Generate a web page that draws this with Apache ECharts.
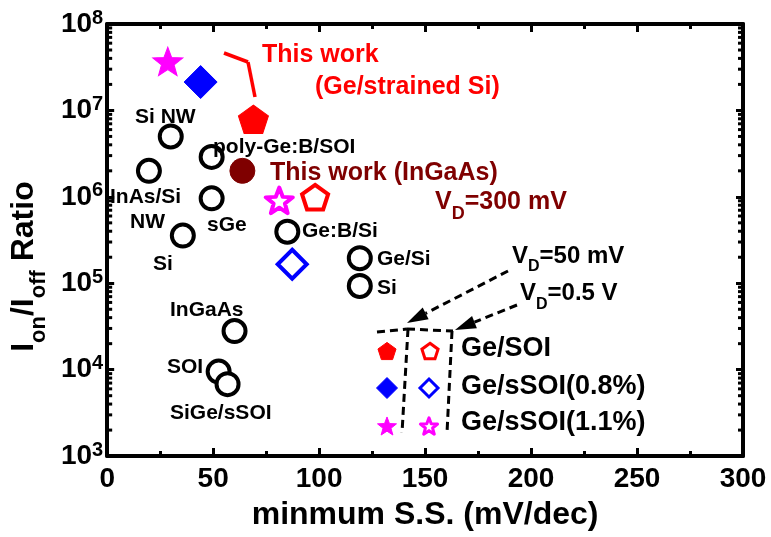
<!DOCTYPE html>
<html><head><meta charset="utf-8">
<script src="https://cdn.jsdelivr.net/npm/echarts@6/dist/echarts.min.js"></script>
<style>html,body{margin:0;padding:0;background:#fff}#c{width:771px;height:537px}</style>
</head><body><div id="c"></div>
<script>
// ---------------- data ----------------
const xTicks = [0, 50, 100, 150, 200, 250, 300];
const yDecades = [3, 4, 5, 6, 7, 8];
// other works (black hollow circles): [min S.S. (mV/dec), Ion/Ioff]
const otherSS    = [30, 19.7, 49.3, 49.3, 35.7, 85, 119.2, 119.2, 60.1, 52.6, 56.8];
const otherRatio = [5.0e6, 2.0e6, 2.9e6, 9.6e5, 3.56e5, 3.95e5, 1.95e5, 9.3e4, 2.8e4, 9.5e3, 6.8e3];
const otherNames = ['Si NW', 'InAs/Si NW', 'poly-Ge:B/SOI', 'sGe', 'Si', 'Ge:B/Si', 'Ge/Si', 'Si', 'InGaAs', 'SOI', 'SiGe/sSOI'];
// this work (InGaAs), VD = 300 mV
const inGaAsSS = [63.8], inGaAsRatio = [2.0e6];
// this work Ge/SOI
const geSOI50SS = [69],   geSOI50Ratio = [7.9e6];   // VD = 50 mV
const geSOI05SS = [98.1], geSOI05Ratio = [9.9e5];   // VD = 0.5 V
// Ge/sSOI(0.8%)
const gs08_50SS = [44.1], gs08_50Ratio = [2.13e7];
const gs08_05SS = [87.3], gs08_05Ratio = [1.66e5];
// Ge/sSOI(1.1%)
const gs11_50SS = [28.6], gs11_50Ratio = [3.69e7];
const gs11_05SS = [81.2], gs11_05Ratio = [9.1e5];
// log minor ticks
const minorMant = [2, 3, 4, 5, 6, 7, 8, 9];

// ---------------- helpers ----------------
const FONT = '"Liberation Sans", Arial, Helvetica, sans-serif';
const pairs = (xs, ys) => xs.map((x, i) => [x, ys[i]]);
function polyPath(n, inner) {
  const pts = []; const cnt = inner ? n * 2 : n;
  for (let k = 0; k < cnt; k++) {
    const r = inner && (k % 2) ? inner : 1;
    const a = -Math.PI / 2 + k * 2 * Math.PI / cnt;
    pts.push((r * Math.cos(a) * 100).toFixed(2) + ',' + (r * Math.sin(a) * 100).toFixed(2));
  }
  return 'path://M' + pts.join('L') + 'Z';
}
const PENT = polyPath(5);
const STAR = polyPath(5, 0.42);
function polyPts(cx, cy, R, n, inner) {
  const pts = []; const cnt = inner ? n * 2 : n;
  const dy = R * (1 - Math.cos(Math.PI / n)) / 2;
  for (let k = 0; k < cnt; k++) {
    const r = inner && (k % 2) ? inner * R : R;
    const a = -Math.PI / 2 + k * 2 * Math.PI / cnt;
    pts.push([cx + r * Math.cos(a), cy + dy + r * Math.sin(a)]);
  }
  return pts;
}
function diamondPts(cx, cy, s) { return [[cx, cy - s / 2], [cx + s / 2, cy], [cx, cy + s / 2], [cx - s / 2, cy]]; }
function txt(x, cy, s, size, color) {
  return { type: 'text', x: x, y: cy, z: 20,
    style: { text: s, fill: color || '#000', fontSize: size, fontWeight: 'bold', fontFamily: FONT, align: 'left', verticalAlign: 'middle' } };
}
function subTxt(x, top, main, sub, rest, size, subSize, color, pad) {
  return { type: 'text', x: x, y: top, z: 20,
    style: { text: '{v|' + main + '}{s|' + sub + '}{v|' + rest + '}', fill: color, align: 'left', verticalAlign: 'top',
      rich: {
        v: { fontSize: size, fontWeight: 'bold', fontFamily: FONT, fill: color, lineHeight: size + 2, verticalAlign: 'top' },
        s: { fontSize: subSize, fontWeight: 'bold', fontFamily: FONT, fill: color, lineHeight: subSize + 2, verticalAlign: 'top', padding: [pad, 0, 0, 0] }
      } } };
}
function seg(x1, y1, x2, y2, color, w, dash) {
  const st = { stroke: color, lineWidth: w };
  if (dash) st.lineDash = dash;
  return { type: 'line', z: 15, shape: { x1: x1, y1: y1, x2: x2, y2: y2 }, style: st };
}
function arrow(x1, y1, x2, y2) {
  const L = 21, W = 6.5;
  const dx = x2 - x1, dy = y2 - y1, len = Math.hypot(dx, dy);
  const ux = dx / len, uy = dy / len;
  const bx = x2 - ux * L, by = y2 - uy * L;
  return [ seg(x1, y1, bx, by, '#000', 3, [8, 5]),
    { type: 'polygon', z: 15, shape: { points: [[x2, y2], [bx - uy * W, by + ux * W], [bx + uy * W, by - ux * W]] }, style: { fill: '#000' } } ];
}

// ---------------- graphics (annotations) ----------------
const circleLabelPos = [
  [135, 117, 'Si NW'], [110, 197, 'InAs/Si'], [130, 222, 'NW'], [213, 147, 'poly-Ge:B/SOI'],
  [207, 225, 'sGe'], [153, 264, 'Si'], [302, 231, 'Ge:B/Si'], [377, 259, 'Ge/Si'], [377, 288, 'Si'],
  [170, 310, 'InGaAs'], [167, 367, 'SOI'], [170, 413, 'SiGe/sSOI']
];
const graphics = [];
circleLabelPos.forEach(p => graphics.push(txt(p[0], p[1], p[2], 21, '#000')));
graphics.push(txt(262, 55, 'This work', 25, '#ff0000'));
graphics.push(txt(315, 87, '(Ge/strained Si)', 25, '#ff0000'));
graphics.push(seg(224, 53, 248, 62, '#ff0000', 3.5));
graphics.push(seg(248, 62, 255, 97, '#ff0000', 3.5));
graphics.push(txt(270, 173, 'This work (InGaAs)', 25, '#7f0000'));
graphics.push(subTxt(435, 189.5, 'V', 'D', '=300 mV', 25, 18, '#7f0000', 15.5));
graphics.push(subTxt(512, 244, 'V', 'D', '=50 mV', 24, 16, '#000', 14.5));
graphics.push(subTxt(520, 281.5, 'V', 'D', '=0.5 V', 24, 16, '#000', 15));
arrow(508, 271, 407, 323).forEach(g => graphics.push(g));
arrow(517, 305, 455, 330).forEach(g => graphics.push(g));
graphics.push(seg(377, 332, 407, 329, '#000', 3, [8, 5]));
graphics.push(seg(407, 329, 453, 331, '#000', 3, [8, 5]));
graphics.push(seg(408, 329, 402, 433, '#000', 3, [8, 5]));
graphics.push(seg(452, 331, 447, 433, '#000', 3, [8, 5]));
graphics.push({ type: 'polygon', z: 15, shape: { points: polyPts(387, 351, 9.5, 5) }, style: { fill: '#ff0000', stroke: '#ff0000', lineWidth: 1 } });
graphics.push({ type: 'polygon', z: 15, shape: { points: polyPts(430, 351, 8.5, 5) }, style: { fill: '#fff', stroke: '#ff0000', lineWidth: 3 } });
graphics.push({ type: 'polygon', z: 15, shape: { points: diamondPts(387, 388, 21) }, style: { fill: '#0000ff', stroke: '#0000ff', lineWidth: 1 } });
graphics.push({ type: 'polygon', z: 15, shape: { points: diamondPts(429, 388, 18) }, style: { fill: '#fff', stroke: '#0000ff', lineWidth: 3 } });
graphics.push({ type: 'polygon', z: 15, shape: { points: polyPts(387, 426, 10, 5, 0.42) }, style: { fill: '#ff00ff', stroke: '#ff00ff', lineWidth: 1 } });
graphics.push({ type: 'polygon', z: 15, shape: { points: polyPts(429, 426, 9, 5, 0.42) }, style: { fill: '#fff', stroke: '#ff00ff', lineWidth: 3, lineJoin: 'round' } });
graphics.push(txt(461, 349, 'Ge/SOI', 27, '#000'));
graphics.push(txt(461, 387, 'Ge/sSOI(0.8%)', 27, '#000'));
graphics.push(txt(461, 423, 'Ge/sSOI(1.1%)', 27, '#000'));

// ---------------- chart ----------------
const minorVals = [];
for (let e = yDecades[0]; e < yDecades[yDecades.length - 1]; e++) minorMant.forEach(m => minorVals.push([0, m * Math.pow(10, e)]));
const axisLine = { show: true, onZero: false, lineStyle: { color: '#000', width: 4 } };
const tickStyle = { color: '#000', width: 3 };
const xAxisBase = { type: 'value', min: xTicks[0], max: xTicks[xTicks.length - 1], interval: 50, axisLine: axisLine, splitLine: { show: false },
  axisTick: { show: true, inside: true, length: 8, lineStyle: tickStyle }, minorTick: { show: true, splitNumber: 2, length: 5, lineStyle: tickStyle } };
const yAxisBase = { type: 'log', logBase: 10, min: Math.pow(10, yDecades[0]), max: Math.pow(10, yDecades[yDecades.length - 1]),
  axisLine: axisLine, splitLine: { show: false }, axisTick: { show: true, inside: true, length: 7, lineStyle: tickStyle } };
const hollow = (color, bw) => ({ color: '#fff', borderColor: color, borderWidth: bw, opacity: 1 });
const solid = color => ({ color: color, borderColor: color, borderWidth: 1, opacity: 1 });

const opt = {
  animation: false,
  grid: { left: 104, right: 28, top: 24, bottom: 74 },
  xAxis: [
    Object.assign({}, xAxisBase, {
      position: 'bottom',
      axisLabel: { color: '#000', fontSize: 28, fontWeight: 'bold', fontFamily: FONT, margin: 9 },
      name: 'minmum S.S. (mV/dec)', nameLocation: 'middle', nameGap: 33,
      nameTextStyle: { color: '#000', fontSize: 32, fontWeight: 'bold', fontFamily: FONT, lineHeight: 34 }
    }),
    Object.assign({}, xAxisBase, { position: 'top', axisLabel: { show: false } })
  ],
  yAxis: [
    Object.assign({}, yAxisBase, {
      position: 'left',
      axisLabel: {
        margin: 4,
        formatter: v => '{b|10}{e|' + Math.round(Math.log10(v)) + '}',
        rich: {
          b: { color: '#000', fontSize: 28, fontWeight: 'bold', fontFamily: FONT, lineHeight: 32 },
          e: { color: '#000', fontSize: 20, fontWeight: 'bold', fontFamily: FONT, lineHeight: 20, verticalAlign: 'top' }
        }
      },
      name: '{a|I}{s|on}{a|/I}{s|off}{a| Ratio}', nameLocation: 'middle', nameGap: 52,
      nameTextStyle: {
        padding: [0, 53, 0, 0],
        rich: {
          a: { color: '#000', fontSize: 32, fontWeight: 'bold', fontFamily: FONT, lineHeight: 34, verticalAlign: 'top' },
          s: { color: '#000', fontSize: 22, fontWeight: 'bold', fontFamily: FONT, lineHeight: 22, verticalAlign: 'top', padding: [20, 0, 0, 0] }
        }
      }
    }),
    Object.assign({}, yAxisBase, { position: 'right', axisLabel: { show: false } })
  ],
  series: [
    { type: 'custom', name: 'minor', clip: false, silent: true, z: 5, data: minorVals,
      renderItem: function (params, api) {
        const v = api.value(1);
        const pL = api.coord([xTicks[0], v]); const pR = api.coord([xTicks[xTicks.length - 1], v]);
        return { type: 'group', children: [
          { type: 'line', shape: { x1: pL[0], y1: pL[1], x2: pL[0] + 5, y2: pL[1] }, style: { stroke: '#000', lineWidth: 3 } },
          { type: 'line', shape: { x1: pR[0], y1: pR[1], x2: pR[0] - 5, y2: pR[1] }, style: { stroke: '#000', lineWidth: 3 } } ] };
      } },
    { type: 'scatter', name: 'other', data: pairs(otherSS, otherRatio), symbol: 'circle', symbolSize: 22, itemStyle: hollow('#000', 4), z: 6 },
    { type: 'scatter', name: 'InGaAs', data: pairs(inGaAsSS, inGaAsRatio), symbol: 'circle', symbolSize: 25, itemStyle: solid('#7f0000'), z: 6 },
    { type: 'scatter', name: 'GeSOI50', data: pairs(geSOI50SS, geSOI50Ratio), symbol: PENT, symbolSize: [30, 28.5], itemStyle: solid('#ff0000'), z: 6 },
    { type: 'scatter', name: 'GeSOI05', data: pairs(geSOI05SS, geSOI05Ratio), symbol: PENT, symbolSize: [26, 24.7], itemStyle: hollow('#ff0000', 4), z: 6 },
    { type: 'scatter', name: 'gs08_50', data: pairs(gs08_50SS, gs08_50Ratio), symbol: 'diamond', symbolSize: 33, itemStyle: solid('#0000ff'), z: 6 },
    { type: 'scatter', name: 'gs08_05', data: pairs(gs08_05SS, gs08_05Ratio), symbol: 'diamond', symbolSize: 29, itemStyle: hollow('#0000ff', 4), z: 6 },
    { type: 'scatter', name: 'gs11_50', data: pairs(gs11_50SS, gs11_50Ratio), symbol: STAR, symbolSize: [30, 28.5], itemStyle: solid('#ff00ff'), z: 6 },
    { type: 'scatter', name: 'gs11_05', data: pairs(gs11_05SS, gs11_05Ratio), symbol: STAR, symbolSize: [27, 25.7], itemStyle: Object.assign(hollow('#ff00ff', 4), { borderJoin: 'round' }), z: 6 }
  ]
};
const chart = echarts.init(document.getElementById('c'));
chart.setOption(opt);
chart.setOption({ graphic: { elements: graphics } });
</script>
</body></html>
